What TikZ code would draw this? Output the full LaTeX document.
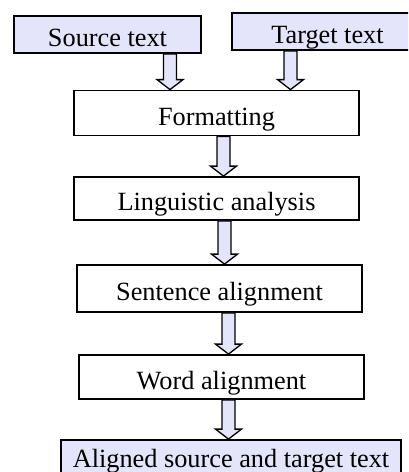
\documentclass[tikz,border=0pt]{standalone}
\usepackage{fontspec}
\setmainfont{Liberation Serif}
\usetikzlibrary{calc}
\definecolor{lav}{RGB}{228,228,250}
\tikzset{
  boxbase/.style={draw=black, line width=1.8pt, rectangle, inner sep=0pt,
    text height=25pt, text depth=1pt, font=\fontsize{26.3}{30}\selectfont},
  plainbox/.style={boxbase, fill=white},
  colbox/.style={boxbase, fill=lav},
  arrowsty/.style={draw=black, fill=lav, line width=1.3pt, line join=miter},
}
\newcommand{\blockarr}[3]{%
  \filldraw[arrowsty] let \p1=(#2.south), \p2=(#3.north) in
  ({(#1-6.5)*1pt},\y1) -- ({(#1+6.5)*1pt},\y1) -- ({(#1+6.5)*1pt},{\y2+10pt})
  -- ({(#1+13)*1pt},{\y2+10pt}) -- ({#1*1pt},\y2) -- ({(#1-13)*1pt},{\y2+10pt})
  -- ({(#1-6.5)*1pt},{\y2+10pt}) -- cycle;}
\begin{document}
\begin{tikzpicture}[x=1pt,y=-1pt]
\useasboundingbox (0,0) rectangle (408,472);
\clip (0,0) rectangle (408,472);
\fill[white] (0,0) rectangle (408,472);
\node[colbox, minimum width=187pt, minimum height=37pt] (src) at (107.5,34.5) {Source text};
\node[colbox, minimum width=191pt, minimum height=37pt] (tgt) at (327.5,31.5) {Target text};
\node[plainbox, minimum width=285pt, minimum height=45pt] (fmt) at (216.5,113) {Formatting};
\node[plainbox, minimum width=285pt, minimum height=43pt] (ling) at (216.5,198.5) {Linguistic analysis};
\node[plainbox, minimum width=285pt, minimum height=47pt] (sent) at (219.5,288.5) {Sentence alignment};
\node[plainbox, minimum width=285pt, minimum height=44pt] (word) at (221.5,377) {Word alignment};
\node[colbox, text height=19pt, minimum width=340pt, minimum height=37pt] (out) at (231,458.5) {Aligned source and target text};
\blockarr{170}{src}{fmt}
\blockarr{290.5}{tgt}{fmt}
\blockarr{223.5}{fmt}{ling}
\blockarr{224.5}{ling}{sent}
\blockarr{228.5}{sent}{word}
\blockarr{228.5}{word}{out}
\end{tikzpicture}
\end{document}
